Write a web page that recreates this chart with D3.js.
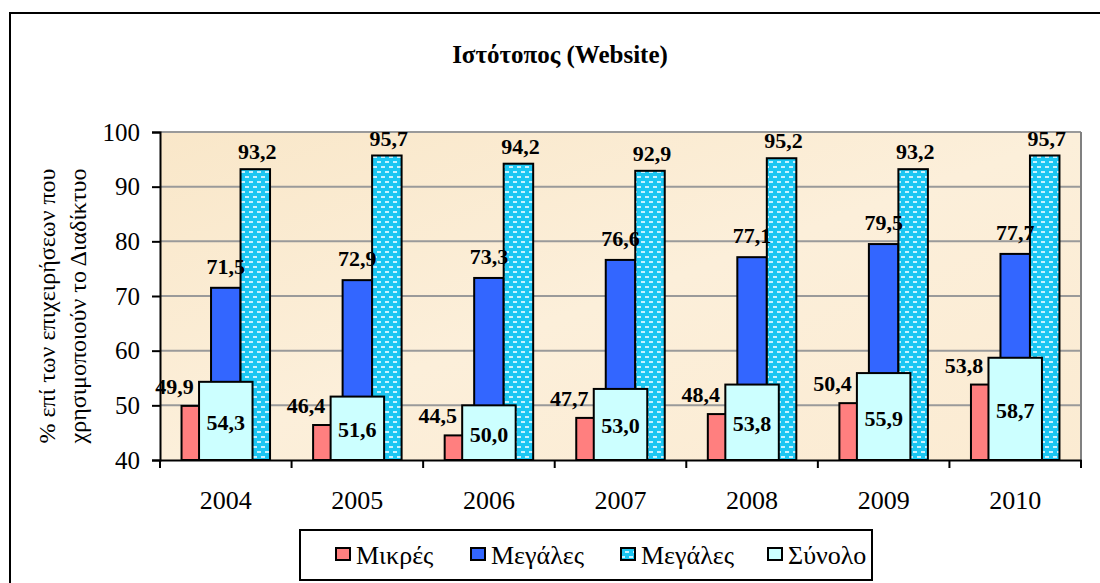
<!DOCTYPE html>
<html>
<head>
<meta charset="utf-8">
<script src="https://cdn.jsdelivr.net/npm/d3@7"></script>
<style>
  html, body { margin: 0; padding: 0; background: #fff; }
  svg { display: block; font-family: 'Liberation Serif', 'DejaVu Serif', serif; }
  svg text { font-family: 'Liberation Serif', 'DejaVu Serif', serif !important; }
</style>
</head>
<body>
<svg id="chart" width="1100" height="583"></svg>
<script>
// ---- data ----
const years = ["2004", "2005", "2006", "2007", "2008", "2009", "2010"];
const seriesNames = ["Μικρές", "Μεγάλες", "Μεγάλες", "Σύνολο"];
const mikres = [49.9, 46.4, 44.5, 47.7, 48.4, 50.4, 53.8];
const megales = [71.5, 72.9, 73.3, 76.6, 77.1, 79.5, 77.7];
const megales2 = [93.2, 95.7, 94.2, 92.9, 95.2, 93.2, 95.7];
const synolo = [54.3, 51.6, 50.0, 53.0, 53.8, 55.9, 58.7];
const yTicks = [40, 50, 60, 70, 80, 90, 100];
const titleText = "Ιστότοπος (Website)";
const yTitleLines = ["% επί των επιχειρήσεων που", "χρησιμοποιούν το Διαδίκτυο"];

// ---- layout ----
const FONT = "'Liberation Serif', 'DejaVu Serif', serif";
const svg = d3.select("#chart");
const L = 160, R = 1081, T = 132, B = 460;
const fmt = v => d3.format(".1f")(v).replace(".", ",");

const defs = svg.append("defs");
const bg = defs.append("linearGradient").attr("id", "bg")
  .attr("x1", "0").attr("y1", "0").attr("x2", "1").attr("y2", "1");
bg.append("stop").attr("offset", "0").attr("stop-color", "#F9E7C9");
bg.append("stop").attr("offset", "0.5").attr("stop-color", "#FCEFDA");
bg.append("stop").attr("offset", "1").attr("stop-color", "#FBEBD2");

const pat = defs.append("pattern").attr("id", "dots")
  .attr("patternUnits", "userSpaceOnUse").attr("width", 8).attr("height", 10);
pat.append("rect").attr("width", 8).attr("height", 10).attr("fill", "#1CC6F2");
pat.append("rect").attr("x", 1).attr("y", 1).attr("width", 4).attr("height", 2).attr("fill", "#C8F2FF");
pat.append("rect").attr("x", 5).attr("y", 6).attr("width", 4).attr("height", 2).attr("fill", "#C8F2FF");
pat.append("rect").attr("x", -3).attr("y", 6).attr("width", 4).attr("height", 2).attr("fill", "#C8F2FF");

// outer frame
svg.append("path").attr("d", `M10,583 L10,13 L1100,13`)
  .attr("fill", "none").attr("stroke", "#000").attr("stroke-width", 2);

// title
svg.append("text").attr("x", 560).attr("y", 63).attr("text-anchor", "middle")
  .attr("font-family", FONT)
  .attr("font-size", 25).attr("font-weight", "bold").text(titleText);

// scales
const x = d3.scaleBand().domain(years).range([L, R]).paddingInner(0).paddingOuter(0);
const y = d3.scaleLinear().domain([40, 100]).range([B, T]);
const step = x.bandwidth();
const gapRatio = 1.46;
const w = step / (3 + gapRatio);
const wTot = step / (1 + gapRatio);
const inner = d3.scaleBand().domain([0, 1, 2]).range([(step - 3 * w) / 2, (step + 3 * w) / 2]);

// plot background
svg.append("rect").attr("x", L).attr("y", T).attr("width", R - L).attr("height", B - T)
  .attr("fill", "url(#bg)");

// gridlines
svg.append("g").selectAll("line").data(yTicks.filter(t => t > 40)).join("line")
  .attr("x1", L).attr("x2", R).attr("y1", d => y(d)).attr("y2", d => y(d))
  .attr("stroke", "#9A9A9A").attr("stroke-width", 2);
// right border
svg.append("line").attr("x1", R).attr("x2", R).attr("y1", T).attr("y2", B)
  .attr("stroke", "#808080").attr("stroke-width", 2);

// primary bars
const prim = [
  { vals: mikres, fill: "#FF7F7F" },
  { vals: megales, fill: "#3366FF" },
  { vals: megales2, fill: "url(#dots)" }
];
prim.forEach((s, si) => {
  svg.append("g").selectAll("rect").data(s.vals).join("rect")
    .attr("x", (d, i) => x(years[i]) + inner(si))
    .attr("y", d => y(d))
    .attr("width", w)
    .attr("height", d => B - y(d))
    .attr("fill", s.fill).attr("stroke", "#000").attr("stroke-width", 2);
});
// total bars (secondary, wider, on top)
svg.append("g").selectAll("rect").data(synolo).join("rect")
  .attr("x", (d, i) => x(years[i]) + (step - wTot) / 2)
  .attr("y", d => y(d))
  .attr("width", wTot)
  .attr("height", d => B - y(d))
  .attr("fill", "#CCFFFF").attr("stroke", "#000").attr("stroke-width", 2);

// axes
const yAxis = svg.append("g").attr("transform", `translate(${L},0)`)
  .call(d3.axisLeft(y).tickValues(yTicks).tickSize(8).tickPadding(12).tickFormat(d3.format("d")));
yAxis.attr("font-family", FONT);
yAxis.select(".domain").attr("stroke", "#000").attr("stroke-width", 2);
yAxis.selectAll(".tick line").attr("stroke", "#000").attr("stroke-width", 2);
yAxis.selectAll(".tick text").attr("font-size", 25).attr("fill", "#000").attr("font-family", FONT);

const xAxis = svg.append("g").attr("transform", `translate(0,${B})`)
  .call(d3.axisBottom(x).tickSize(0).tickPadding(31));
xAxis.attr("font-family", FONT);
xAxis.select(".domain").attr("stroke", "#000").attr("stroke-width", 2);
xAxis.selectAll(".tick text").attr("font-size", 26).attr("fill", "#000").attr("font-family", FONT);
// category boundary ticks
svg.append("g").selectAll("line").data(years.concat(["end"])).join("line")
  .attr("x1", (d, i) => L + i * step).attr("x2", (d, i) => L + i * step)
  .attr("y1", B).attr("y2", B + 8).attr("stroke", "#000").attr("stroke-width", 2);

// data labels
const lab = svg.append("g").attr("font-weight", "bold").attr("font-size", 22)
  .attr("fill", "#000").attr("font-family", FONT);
lab.selectAll("text.m").data(mikres).join("text").attr("class", "m")
  .attr("x", (d, i) => x(years[i]) + inner(0) - 7)
  .attr("y", d => y(d) - 12).attr("text-anchor", "middle").text(fmt);
lab.selectAll("text.g").data(megales).join("text").attr("class", "g")
  .attr("x", (d, i) => x(years[i]) + inner(1) + w / 2)
  .attr("y", d => y(d) - 14).attr("text-anchor", "middle").text(fmt);
lab.selectAll("text.g2").data(megales2).join("text").attr("class", "g2")
  .attr("x", (d, i) => x(years[i]) + inner(2) + w / 2 + 2)
  .attr("y", d => y(d) - 10).attr("text-anchor", "middle").text(fmt);
lab.selectAll("text.s").data(synolo).join("text").attr("class", "s")
  .attr("x", (d, i) => x(years[i]) + step / 2)
  .attr("y", d => (y(d) + B) / 2 + 9).attr("text-anchor", "middle").text(fmt);

// y title
yTitleLines.forEach((t, i) => {
  svg.append("text").attr("transform", `translate(${55 + i * 31},${(T + B) / 2 + 10}) rotate(-90)`)
    .attr("font-family", FONT)
    .attr("font-size", 24).attr("text-anchor", "middle").text(t);
});

// legend
const lg = svg.append("g").attr("font-family", FONT);
lg.append("rect").attr("x", 300).attr("y", 530).attr("width", 572).attr("height", 50)
  .attr("fill", "#fff").attr("stroke", "#000").attr("stroke-width", 2);
const legFills = ["#FF7F7F", "#3366FF", "url(#dots)", "#CCFFFF"];
const legX = [336, 471, 621, 768];
seriesNames.forEach((n, i) => {
  lg.append("rect").attr("x", legX[i]).attr("y", 548).attr("width", 14).attr("height", 12)
    .attr("fill", legFills[i]).attr("stroke", "#000").attr("stroke-width", 2);
  lg.append("text").attr("x", legX[i] + 20).attr("y", 564).attr("font-size", 26)
    .attr("font-family", FONT).text(n);
});
</script>
</body>
</html>
